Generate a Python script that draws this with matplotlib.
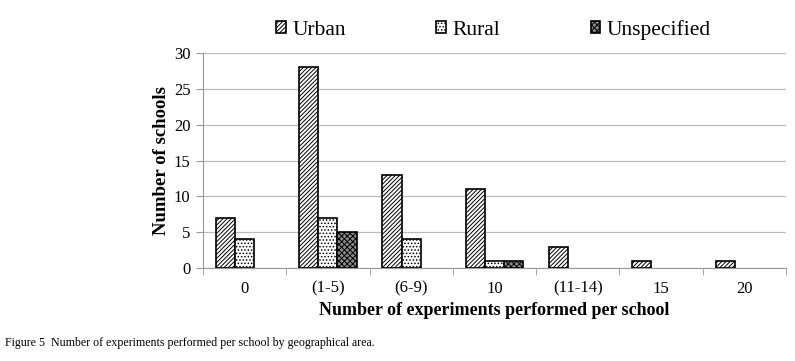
import matplotlib
matplotlib.use("Agg")
import matplotlib.pyplot as plt
import numpy as np

categories = ["0", "(1-5)", "(6-9)", "10", "(11-14)", "15", "20"]
urban = [7, 28, 13, 11, 3, 1, 1]
rural = [4, 7, 4, 1, 0, 0, 0]
unspecified = [0, 5, 0, 1, 0, 0, 0]

plt.rcParams['font.family'] = ['Liberation Serif', 'DejaVu Serif']
plt.rcParams['hatch.linewidth'] = 0.7

fig = plt.figure(figsize=(7.95, 3.61), dpi=100)
ax = fig.add_axes([0.2553, 0.2576, 0.7334, 0.5956])

def nz(v):
    a = np.array(v, dtype=float)
    a[a == 0] = np.nan
    return a

x = np.arange(len(categories))
w = 0.23
ax.bar(x - w, nz(urban), w, facecolor='white', edgecolor='black', hatch='////////', linewidth=1.2, label='Urban', zorder=3)
ax.bar(x, nz(rural), w, facecolor='white', edgecolor='black', hatch='.....', linewidth=1.2, label='Rural', zorder=3)
ax.bar(x + w, nz(unspecified), w, facecolor='#8a8a8a', edgecolor='black', hatch='xxxxxx', linewidth=1.2, label='Unspecified', zorder=3)

ax.set_xlim(-0.5, len(categories) - 0.5)
ax.set_ylim(0, 30)
ax.set_yticks([0, 5, 10, 15, 20, 25, 30])
ax.yaxis.grid(True, color='#bbbbbb', linewidth=0.9, zorder=0)
ax.set_axisbelow(True)

ax.set_xticks(x)
ax.set_xticklabels(categories, fontsize=12)
ax.set_xticks(np.arange(-0.5, len(categories)), minor=True)
ax.tick_params(axis='x', which='major', length=0, pad=9)
ax.tick_params(axis='x', which='minor', length=5, color='#999999', direction='out')
ax.tick_params(axis='y', length=5, color='#999999', labelsize=12, pad=4)

for s in ['top', 'right']:
    ax.spines[s].set_visible(False)
for s in ['left', 'bottom']:
    ax.spines[s].set_color('#999999')

ax.set_ylabel('Number of schools', fontsize=13.5, fontweight='bold', labelpad=3)
ax.set_xlabel('Number of experiments performed per school', fontsize=13, fontweight='bold', labelpad=4)

leg = fig.legend(loc='center', bbox_to_anchor=(0.621, 0.918), ncol=3, frameon=False,
                 fontsize=15.5, handlelength=0.45, handleheight=0.45, handletextpad=0.3,
                 columnspacing=4.2)

fig.text(0.006, 0.05, 'Figure 5  Number of experiments performed per school by geographical area.',
         fontsize=8.6, ha='left', va='center')

fig.savefig('out.png', dpi=100)
